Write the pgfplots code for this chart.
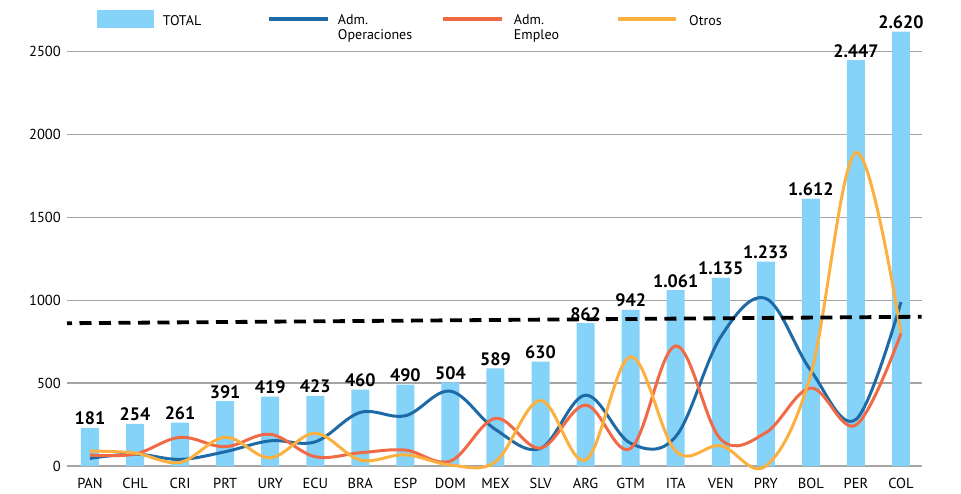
\documentclass[border=0pt]{standalone}
\usepackage{fontspec}
\setmainfont{PT Sans}
\usepackage{pgfplots}
\pgfplotsset{compat=1.18}
\definecolor{barblue}{RGB}{133,211,248}
\definecolor{opblue}{RGB}{30,106,166}
\definecolor{emporange}{RGB}{240,106,70}
\definecolor{otyellow}{RGB}{251,176,64}
\definecolor{gridgray}{RGB}{165,165,165}
\begin{document}
\begin{tikzpicture}
\begin{axis}[
  scale only axis, width=854.7pt, height=466pt,
  xmin=-0.51, xmax=18.46, ymin=0, ymax=2810,
  axis line style={draw=none}, tick style={draw=none},
  ymajorgrids, grid style={draw=gridgray, line width=1.2pt},
  ytick={0,500,1000,1500,2000,2500},
  yticklabels={0,500,1000,1500,2000,2500},
  yticklabel style={font=\fontsize{14.5}{16}\selectfont, inner sep=0pt, anchor=east, xshift=-6pt},
  xtick={0,...,18},
  xticklabels={PAN,CHL,CRI,PRT,URY,ECU,BRA,ESP,DOM,MEX,SLV,ARG,GTM,ITA,VEN,PRY,BOL,PER,COL},
  xticklabel style={font=\fontsize{14.5}{16}\selectfont, inner sep=0pt, anchor=north, yshift=-12pt},
  clip=false,
  legend columns=4,
  legend cell align=left,
  legend style={draw=none, fill=none, at={(0.0351,0.9785)}, anchor=north west,
    inner sep=0pt, outer sep=0pt, column sep=0pt, row sep=0pt,
    font=\fontsize{14}{15}\selectfont,
    nodes={inner sep=0pt, text width=102pt, align=left, text depth=0pt, yshift=5pt}},
]
\addplot[ybar, bar width=18pt, fill=barblue, draw=none,
  nodes near coords, point meta=explicit symbolic,
  nodes near coords style={font=\bfseries\fontsize{18}{19}\selectfont, inner sep=0pt, anchor=south, yshift=2.5pt},
  legend image code/.code={\fill[barblue] (0pt,-3pt) rectangle (57pt,15pt); \path (0pt,0pt) (66pt,0pt);}]
coordinates {
(0,230)[181] (1,254)[254] (2,261)[261] (3,391)[391] (4,419)[419] (5,423)[423]
(6,460)[460] (7,490)[490] (8,504)[504] (9,589)[589] (10,630)[630] (11,862)[862]
(12,942)[942] (13,1061)[1.061] (14,1135)[1.135] (15,1233)[1.233] (16,1612)[1.612]
(17,2447)[2.447] (18,2620)[2.620]};
\addlegendentry{TOTAL}
\addplot[opblue, line width=3pt, smooth, tension=0.6,
  legend image code/.code={\draw[opblue, line width=3.5pt] (3pt,6pt) -- (62pt,6pt); \path (0pt,0pt) (70pt,0pt);}]
coordinates {
(0,46) (1,72) (2,40) (3,86) (4,152) (5,146) (6,323) (7,303) (8,451) (9,220)
(10,106) (11,427) (12,137) (13,177) (14,779) (15,1010) (16,575) (17,281) (18,989)};
\addlegendentry{Adm.\\Operaciones}
\addplot[emporange, line width=3pt, smooth, tension=0.6,
  legend image code/.code={\draw[emporange, line width=3.5pt] (1.3pt,6pt) -- (60.3pt,6pt); \path (0pt,0pt) (71pt,0pt);}]
coordinates {
(0,66) (1,72) (2,173) (3,116) (4,191) (5,56) (6,80) (7,96) (8,30) (9,287)
(10,108) (11,367) (12,106) (13,724) (14,161) (15,201) (16,470) (17,247) (18,799)};
\addlegendentry{Adm.\\Empleo}
\addplot[otyellow, line width=3pt, smooth, tension=0.6,
  legend image code/.code={\draw[otyellow, line width=3.5pt] (0pt,6pt) -- (58.3pt,6pt); \path (0pt,0pt) (70pt,0pt);}]
coordinates {
(0,90) (1,78) (2,22) (3,173) (4,50) (5,197) (6,36) (7,68) (8,6) (9,26)
(10,395) (11,36) (12,658) (13,90) (14,122) (15,0) (16,555) (17,1890) (18,802)};
\addlegendentry{Otros}
\addplot[black, line width=3.8pt, dash pattern=on 12pt off 7.5pt, dash phase=7pt, forget plot]
coordinates {(-0.51,861) (18.46,900)};
\end{axis}
\path ([shift={(-67pt,-27pt)}]current axis.south west) rectangle ([shift={(894pt,466pt)}]current axis.south west);
\end{tikzpicture}
\end{document}
